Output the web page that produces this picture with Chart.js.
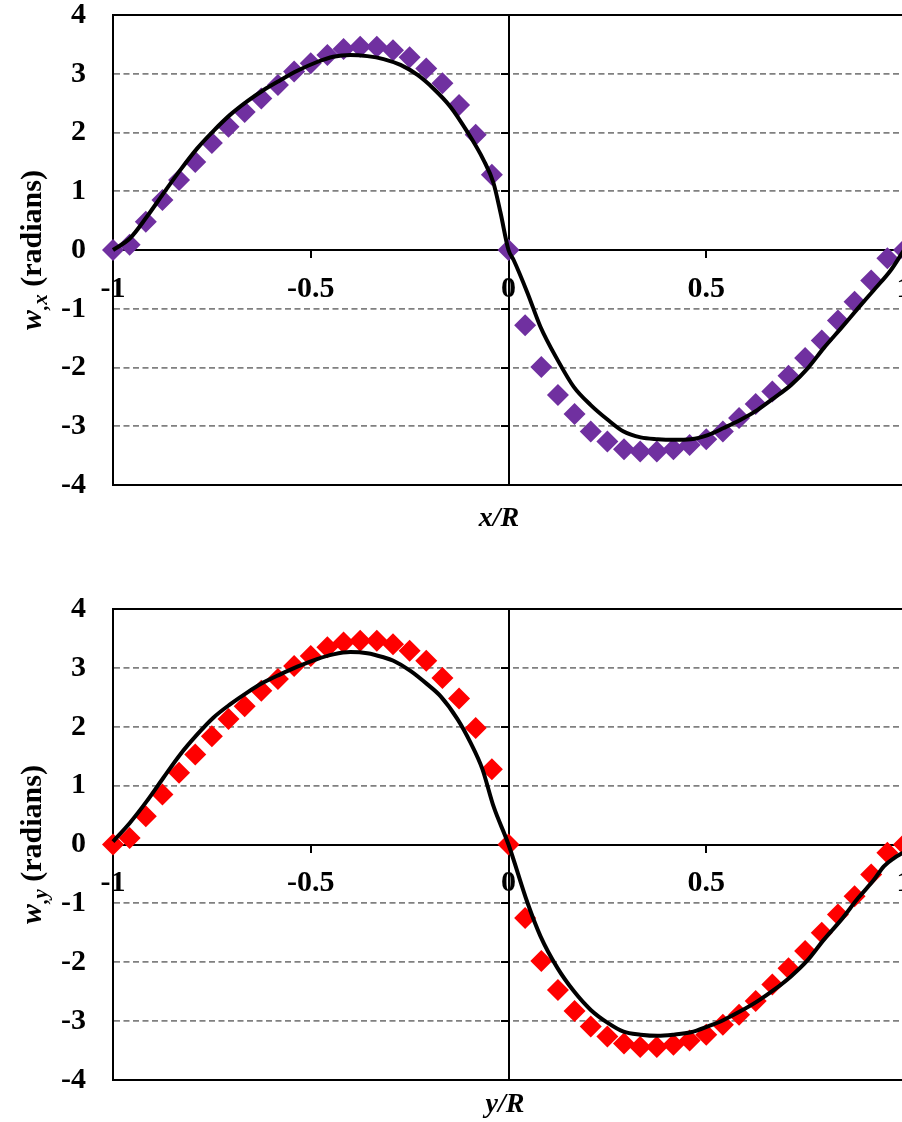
<!DOCTYPE html>
<html>
<head>
<meta charset="utf-8">
<script src="https://cdn.jsdelivr.net/npm/chart.js@4.4.0/dist/chart.umd.min.js"></script>
<style>
  html, body { margin: 0; padding: 0; background: #fff; overflow: hidden; width: 902px; height: 1122px; }
  canvas { position: absolute; left: 0; }
  #chartX { top: -35px; }
  #chartY { top: 559px; }
</style>
</head>
<body>
<canvas id="chartX" width="934" height="570"></canvas>
<canvas id="chartY" width="934" height="571"></canvas>
<script>
"use strict";

// marker positions (x/R, y/R) shared by both plots
const markerX = [-1, -0.958, -0.917, -0.875, -0.833, -0.792, -0.75, -0.708, -0.667, -0.625,
  -0.583, -0.542, -0.5, -0.458, -0.417, -0.375, -0.333, -0.292, -0.25, -0.208, -0.167,
  -0.125, -0.083, -0.042, 0, 0.042, 0.083, 0.125, 0.167, 0.208, 0.25, 0.292, 0.333,
  0.375, 0.417, 0.458, 0.5, 0.542, 0.583, 0.625, 0.667, 0.708, 0.75, 0.792, 0.833,
  0.875, 0.917, 0.958, 1];

// w,x markers (purple)
const wxMarkers = [0, 0.09, 0.48, 0.85, 1.19, 1.50, 1.82, 2.10, 2.35, 2.58, 2.81, 3.04,
  3.18, 3.32, 3.42, 3.46, 3.46, 3.40, 3.28, 3.09, 2.84, 2.47, 1.96, 1.28, 0,
  -1.28, -1.99, -2.47, -2.79, -3.09, -3.26, -3.39, -3.43, -3.43, -3.39, -3.32, -3.22,
  -3.09, -2.86, -2.62, -2.41, -2.14, -1.84, -1.54, -1.20, -0.88, -0.52, -0.14, 0];

// w,y markers (red)
const wyMarkers = [0, 0.11, 0.48, 0.85, 1.22, 1.53, 1.84, 2.13, 2.35, 2.61, 2.81, 3.03,
  3.20, 3.35, 3.43, 3.46, 3.46, 3.40, 3.29, 3.12, 2.83, 2.48, 1.98, 1.28, 0,
  -1.25, -1.98, -2.47, -2.83, -3.09, -3.26, -3.38, -3.44, -3.44, -3.40, -3.33, -3.23,
  -3.06, -2.89, -2.66, -2.38, -2.10, -1.81, -1.50, -1.19, -0.88, -0.51, -0.14, 0];

// solid black curve, top plot
const wxLineX = [-1, -0.957, -0.914, -0.873, -0.830, -0.787, -0.747, -0.704, -0.661, -0.620,
  -0.577, -0.534, -0.484, -0.443, -0.400, -0.357, -0.316, -0.273, -0.230, -0.190, -0.147,
  -0.104, -0.063, -0.038, -0.020, 0, 0.013, 0.048, 0.081, 0.124, 0.165, 0.208, 0.251,
  0.291, 0.334, 0.377, 0.418, 0.461, 0.504, 0.544, 0.587, 0.630, 0.671, 0.714, 0.757,
  0.797, 0.841, 0.884, 0.924, 0.967, 1];
const wxLineY = [0, 0.20, 0.57, 0.96, 1.36, 1.73, 2.02, 2.30, 2.53, 2.72,
  2.89, 3.05, 3.20, 3.29, 3.32, 3.30, 3.25, 3.15, 2.98, 2.75, 2.44,
  2.01, 1.53, 1.14, 0.63, 0, -0.17, -0.73, -1.31, -1.87, -2.33, -2.64, -2.89,
  -3.09, -3.19, -3.22, -3.23, -3.22, -3.15, -3.03, -2.89, -2.72, -2.52, -2.30, -2.01,
  -1.67, -1.33, -0.99, -0.68, -0.34, 0];

// solid black curve, bottom plot
const wyLineX = [-1, -0.957, -0.914, -0.873, -0.830, -0.787, -0.747, -0.704, -0.661, -0.620,
  -0.577, -0.534, -0.484, -0.443, -0.400, -0.357, -0.316, -0.291, -0.248, -0.205, -0.172,
  -0.129, -0.096, -0.066, -0.038, 0, 0.048, 0.081, 0.124, 0.165, 0.208, 0.251, 0.291,
  0.334, 0.377, 0.418, 0.461, 0.504, 0.544, 0.587, 0.630, 0.671, 0.714, 0.757, 0.797,
  0.841, 0.884, 0.924, 0.949, 0.975, 1];
const wyLineY = [0.05, 0.37, 0.74, 1.13, 1.53, 1.87, 2.15, 2.38, 2.58, 2.75,
  2.89, 3.02, 3.15, 3.23, 3.27, 3.25, 3.18, 3.12, 2.95, 2.72, 2.52,
  2.13, 1.73, 1.28, 0.65, 0, -0.99, -1.56, -2.10, -2.49, -2.81, -3.03, -3.18,
  -3.23, -3.25, -3.23, -3.19, -3.09, -2.98, -2.83, -2.66, -2.47, -2.24, -1.96, -1.62,
  -1.28, -0.91, -0.60, -0.37, -0.23, -0.13];

const xTicks = [-1, -0.5, 0, 0.5, 1];
const yTicks = [-4, -3, -2, -1, 0, 1, 2, 3, 4];

const FONT = "'Liberation Serif', 'Times New Roman', serif";
Chart.defaults.font.family = FONT;
Chart.defaults.font.weight = "bold";
Chart.defaults.color = "#000";

function tickValue(ctx) {
  return ctx.tick ? ctx.tick.value : null;
}

function gridColor(ctx) {
  let v = tickValue(ctx);
  if (v === null || Math.abs(v) === 4) return "#000";
  if (v === 0) return "rgba(0,0,0,0)";
  return "#808080";
}

function gridWidth(ctx) {
  let v = tickValue(ctx);
  return (v !== null && Math.abs(v) === 4) ? 2 : 1.8;
}

function gridDash(ctx) {
  let v = tickValue(ctx);
  if (v === null || Math.abs(v) === 4 || v === 0) return [];
  return [6, 3.5];
}

// axis titles with italic / subscript parts
const axisTitles = {
  id: "axisTitles",
  afterDraw(chart, args, opts) {
    const ctx = chart.ctx;
    const area = chart.chartArea;
    ctx.save();
    ctx.fillStyle = "#000";

    ctx.font = "italic bold 28px " + FONT;
    ctx.textAlign = "center";
    ctx.textBaseline = "middle";
    ctx.fillText(opts.xTitle, (area.left + area.right) / 2 + opts.xShift, area.bottom + opts.xGap);

    ctx.translate(opts.yBase, (area.top + area.bottom) / 2);
    ctx.rotate(-Math.PI / 2);
    ctx.textAlign = "left";
    ctx.textBaseline = "alphabetic";
    let total = 0;
    opts.yTitle.forEach(s => {
      ctx.font = s.font;
      s.w = ctx.measureText(s.text).width;
      total += s.w;
    });
    let x = -total / 2;
    opts.yTitle.forEach(s => {
      ctx.font = s.font;
      ctx.fillText(s.text, x, s.dy || 0);
      x += s.w;
    });
    ctx.restore();
  }
};

function buildChart(canvasId, markerColor, markerY, lineX, lineY, titles) {
  const markerPts = markerX.map((x, i) => ({x: x, y: markerY[i]}));
  const linePts = lineX.map((x, i) => ({x: x, y: lineY[i]}));

  return new Chart(document.getElementById(canvasId), {
    type: "scatter",
    data: {
      datasets: [
        {
          label: "model",
          data: linePts,
          showLine: true,
          borderColor: "#000",
          borderWidth: 4,
          pointRadius: 0,
          cubicInterpolationMode: "monotone",
          order: 0,
          clip: false
        },
        {
          label: "FEM",
          data: markerPts,
          pointStyle: "rectRot",
          pointRadius: 11,
          backgroundColor: markerColor,
          borderColor: markerColor,
          borderWidth: 0,
          order: 1,
          clip: false
        }
      ]
    },
    options: {
      responsive: false,
      animation: false,
      events: [],
      layout: { padding: { top: 50, bottom: 50, left: 0, right: 30 } },
      plugins: {
        legend: { display: false },
        tooltip: { enabled: false },
        axisTitles: titles
      },
      scales: {
        x: {
          type: "linear",
          min: -1,
          max: 1,
          position: { y: 0 },
          afterBuildTicks: s => { s.ticks = xTicks.map(v => ({value: v})); },
          ticks: {
            padding: 14,
            maxRotation: 0,
            autoSkip: false,
            font: { size: 30, weight: "bold" },
            callback: v => String(v)
          },
          grid: { drawOnChartArea: false, drawTicks: true, tickLength: 7, color: "#000", lineWidth: 2 },
          border: { display: true, color: "#000", width: 2 }
        },
        y: {
          type: "linear",
          min: -4,
          max: 4,
          position: "left",
          afterFit: s => { s.width = 113; },
          afterBuildTicks: s => { s.ticks = yTicks.map(v => ({value: v})); },
          ticks: {
            padding: 27,
            font: { size: 30, weight: "bold" },
            callback: v => String(v)
          },
          grid: { drawTicks: false, color: gridColor, lineWidth: gridWidth },
          border: { display: true, color: "#000", width: 2, dash: gridDash }
        },
        y0: {
          type: "linear",
          min: -4,
          max: 4,
          position: { x: 0 },
          afterBuildTicks: s => { s.ticks = yTicks.map(v => ({value: v})); },
          ticks: { display: false },
          grid: { drawOnChartArea: false, drawTicks: true, tickLength: 7, color: "#000", lineWidth: 2 },
          border: { display: true, color: "#000", width: 2 }
        }
      }
    },
    plugins: [axisTitles]
  });
}

buildChart("chartX", "#7030A0", wxMarkers, wxLineX, wxLineY, {
  xTitle: "x/R", xShift: -9.5, xGap: 33.5, yBase: 41,
  yTitle: [
    { text: "w", font: "italic bold 30px " + FONT },
    { text: ",x", font: "italic bold 21px " + FONT, dy: 6 },
    { text: " (radians)", font: "bold 30px " + FONT }
  ]
});

buildChart("chartY", "#FF0000", wyMarkers, wyLineX, wyLineY, {
  xTitle: "y/R", xShift: -3.5, xGap: 25, yBase: 41,
  yTitle: [
    { text: "w", font: "italic bold 30px " + FONT },
    { text: ",y", font: "italic bold 21px " + FONT, dy: 6 },
    { text: " (radians)", font: "bold 30px " + FONT }
  ]
});
</script>
</body>
</html>
